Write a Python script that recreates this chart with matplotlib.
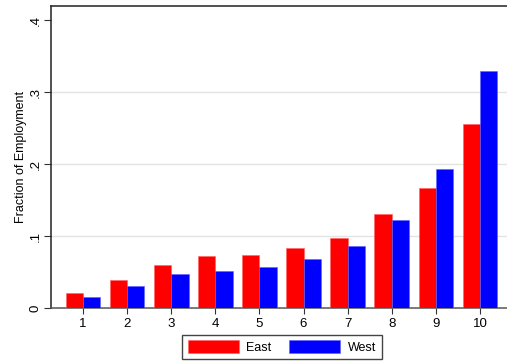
import matplotlib
matplotlib.use("Agg")
import matplotlib.pyplot as plt
from matplotlib.patches import Patch
import numpy as np

plt.rcParams['font.family'] = ['Liberation Sans', 'DejaVu Sans']

deciles = [1, 2, 3, 4, 5, 6, 7, 8, 9, 10]
east = [0.021, 0.039, 0.060, 0.073, 0.074, 0.084, 0.098, 0.131, 0.167, 0.256]
west = [0.016, 0.031, 0.048, 0.052, 0.058, 0.069, 0.086, 0.123, 0.194, 0.329]
y_ticks = [0, 0.1, 0.2, 0.3, 0.4]
y_tick_labels = ["0", ".1", ".2", ".3", ".4"]

fig = plt.figure(figsize=(5.07, 3.62), dpi=100)
ax = fig.add_axes([51 / 507, 1 - 308.3 / 362, 456 / 507, 302.3 / 362])

x = np.array(deciles, dtype=float)
w = 0.392
ax.bar(x - w / 2, east, width=w, color="#ff0000", edgecolor="#ff6060", linewidth=0.4, zorder=3)
ax.bar(x + w / 2, west, width=w, color="#0000ff", edgecolor="#6060ff", linewidth=0.4, zorder=3)

ax.set_xlim(0.274, 10.614)
ax.set_ylim(0, 0.42)

ax.set_yticks(y_ticks)
ax.set_yticklabels(y_tick_labels, rotation=90, va="center", fontsize=9.5)
ax.set_xticks(deciles)
ax.set_xticklabels([str(d) for d in deciles], fontsize=9.5)
ax.tick_params(axis="y", length=5, width=0.8, color="#333333", pad=1.5)
ax.tick_params(axis="x", length=4, width=0.8, color="#333333", pad=3)

for gy in [0.1, 0.2, 0.3]:
    ax.axhline(gy, color="#e3e3e3", linewidth=1.0, zorder=1)

for side in ["left", "bottom", "top"]:
    ax.spines[side].set_color("#222222")
    ax.spines[side].set_linewidth(1.1)
ax.spines["bottom"].set_color("#555555")
ax.spines["right"].set_visible(False)

ax.set_ylabel("Fraction of Employment", fontsize=9, labelpad=2)

handles = [Patch(facecolor="#ff0000", edgecolor="#ff6060", linewidth=0.4),
           Patch(facecolor="#0000ff", edgecolor="#6060ff", linewidth=0.4)]
leg = fig.legend(handles, ["East", "West"], loc="center",
                 bbox_to_anchor=(282 / 507, 1 - 347 / 362), ncol=2,
                 fontsize=9, handlelength=4.1, handleheight=1.12,
                 handletextpad=0.6, columnspacing=1.4, borderpad=0.45,
                 fancybox=False, framealpha=1)
leg.get_frame().set_edgecolor("#444444")
leg.get_frame().set_linewidth(1.0)

fig.savefig("out.png", dpi=100)
